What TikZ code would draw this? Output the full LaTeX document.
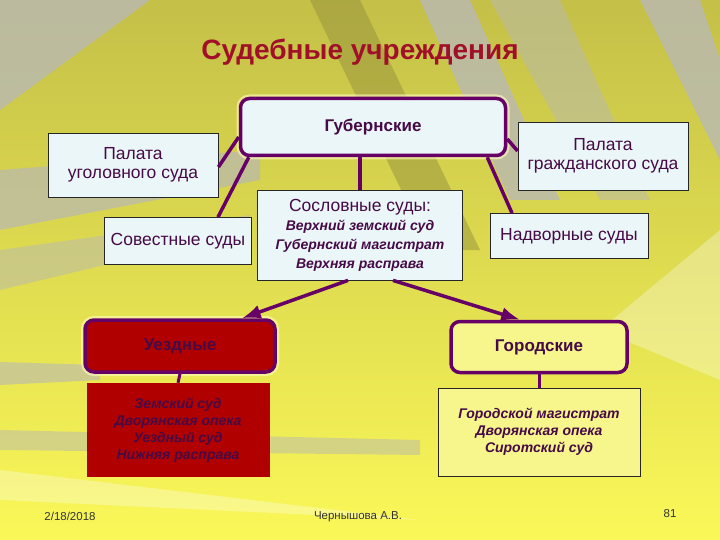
\documentclass[tikz,border=0pt]{standalone}
\usepackage{fontspec}
\setmainfont{Liberation Sans}
\usetikzlibrary{positioning,arrows.meta,calc}

\definecolor{plum}{RGB}{102,0,102}
\definecolor{boxcyan}{RGB}{234,246,248}
\definecolor{titlered}{RGB}{160,16,40}
\definecolor{deepred}{RGB}{176,0,0}
\definecolor{paleyellow}{RGB}{246,246,140}
\definecolor{textplum}{RGB}{70,10,70}
\definecolor{rayolive}{RGB}{150,145,60}
\definecolor{raygray}{RGB}{185,185,180}
\newcommand\listfont{\fontsize{14}{17}\selectfont\bfseries\itshape}

\begin{document}
\begin{tikzpicture}[x=1pt, y=-1pt, >=Latex,
  every node/.style={font=\fontsize{17.5}{19}\selectfont, text=textplum, align=center},
  plain/.style={draw=black!85, line width=0.8pt, fill=boxcyan, inner sep=2pt},
  group/.style={draw=plum, line width=3.5pt, rounded corners=9pt, font=\fontsize{17}{19}\selectfont\bfseries},
  glow/.style={preaction={draw=yellow!25!white, line width=8pt, opacity=0.6}},
  listtext/.style={font=\listfont},
  link/.style={draw=plum, line width=3.5pt},
  footer/.style={font=\fontsize{11.5}{13}\selectfont, text=black!80}]
  \useasboundingbox (0,0) rectangle (720,540);

  % background with rays
  \fill[top color={rgb,255:red,196;green,192;blue,72}, bottom color={rgb,255:red,250;green,248;blue,88}] (0,0) rectangle (720,540);
  \fill[raygray, opacity=0.8] (0,0) -- (150,0) -- (0,110) -- cycle;
  \fill[rayolive, opacity=0.5] (310,0) -- (360,0) -- (480,250) -- (430,250) -- cycle;
  \fill[raygray, opacity=0.8] (420,0) -- (470,0) -- (560,200) -- (510,200) -- cycle;
  \fill[raygray, opacity=0.5] (490,0) -- (560,0) -- (650,200) -- (600,200) -- cycle;
  \fill[raygray, opacity=0.8] (640,0) -- (700,0) -- (720,60) -- (720,160) -- cycle;
  \fill[raygray, opacity=0.7] (0,170) -- (260,150) -- (260,180) -- (0,230) -- cycle;
  \fill[raygray, opacity=0.5] (0,250) -- (250,215) -- (250,230) -- (0,290) -- cycle;
  \fill[raygray, opacity=0.6] (0,362) -- (100,365) -- (100,380) -- (0,385) -- cycle;
  \fill[raygray, opacity=0.5] (0,430) -- (420,440) -- (420,455) -- (0,450) -- cycle;
  \fill[white, opacity=0.3] (0,470) -- (420,520) -- (0,500) -- cycle;
  \fill[white, opacity=0.3] (720,230) -- (600,330) -- (720,380) -- cycle;

  % title
  \node[font=\fontsize{28}{32}\selectfont\bfseries, text=titlered] (title) at (360,52) {Судебные учреждения};

  % boxes
  \node[group, glow, fill=boxcyan, minimum width=265pt, minimum height=57pt] (gub) at (373,127) {Губернские};
  \node[plain, minimum width=170pt, minimum height=64pt] (ugol) at (133,165) {Палата\\уголовного суда};
  \node[plain, minimum width=170pt, minimum height=68pt] (grazh) at (603,156) {Палата\\гражданского суда};
  \node[plain, minimum width=205pt, minimum height=90pt] (soslov) at (360,235)
    {Сословные суды:\\{\listfont Верхний земский суд}\\{\listfont Губернский магистрат}\\{\listfont Верхняя расправа}};
  \node[plain, minimum width=147pt, minimum height=47pt] (sovest) at (178,241) {Совестные суды};
  \node[plain, minimum width=158pt, minimum height=45pt] (nadvor) at (569,236) {Надворные суды};

  \node[group, glow, fill=deepred, minimum width=190pt, minimum height=52pt] (uezd) at (180,346) {Уездные};
  \node[fill=deepred, minimum width=183pt, minimum height=94pt, listtext] (uezdlist) at (178,430) {Земский суд\\Дворянская опека\\Уездный суд\\Нижняя расправа};
  \node[group, fill=paleyellow, minimum width=176pt, minimum height=51pt] (gorod) at (539,347) {Городские};
  \node[plain, fill=paleyellow, minimum width=202pt, minimum height=88pt, listtext] (gorodlist) at (539,432) {Городской магистрат\\Дворянская опека\\Сиротский суд};

  % connectors
  \draw[link] ([yshift=-10pt]gub.west) -- ([yshift=-2pt]ugol.east);
  \draw[link] ([xshift=10pt]gub.south west) -- ([xshift=40pt]sovest.north);
  \draw[link] (gub.south -| soslov.north) -- (soslov.north);
  \draw[link] ([yshift=-12pt]gub.east) -- ([yshift=5pt]grazh.west);
  \draw[link] ([xshift=-20pt]gub.south east) -- ([xshift=-57pt]nadvor.north);
  \draw[link, ->] ([xshift=-12pt]soslov.south) -- ([xshift=62pt]uezd.north);
  \draw[link, ->] ([xshift=33pt]soslov.south) -- ([xshift=-19pt]gorod.north);
  \draw[link, line width=3pt] (uezd.south) -- (uezdlist.north);
  \draw[link, line width=3pt] (gorod.south) -- (gorodlist.north);

  % footer
  \node[footer] (date) at (70,516) {2/18/2018};
  \node[footer] (author) at (358,517) {Чернышова А.В.};
  \node[footer] (page) at (670,514) {81};
\end{tikzpicture}
\end{document}
